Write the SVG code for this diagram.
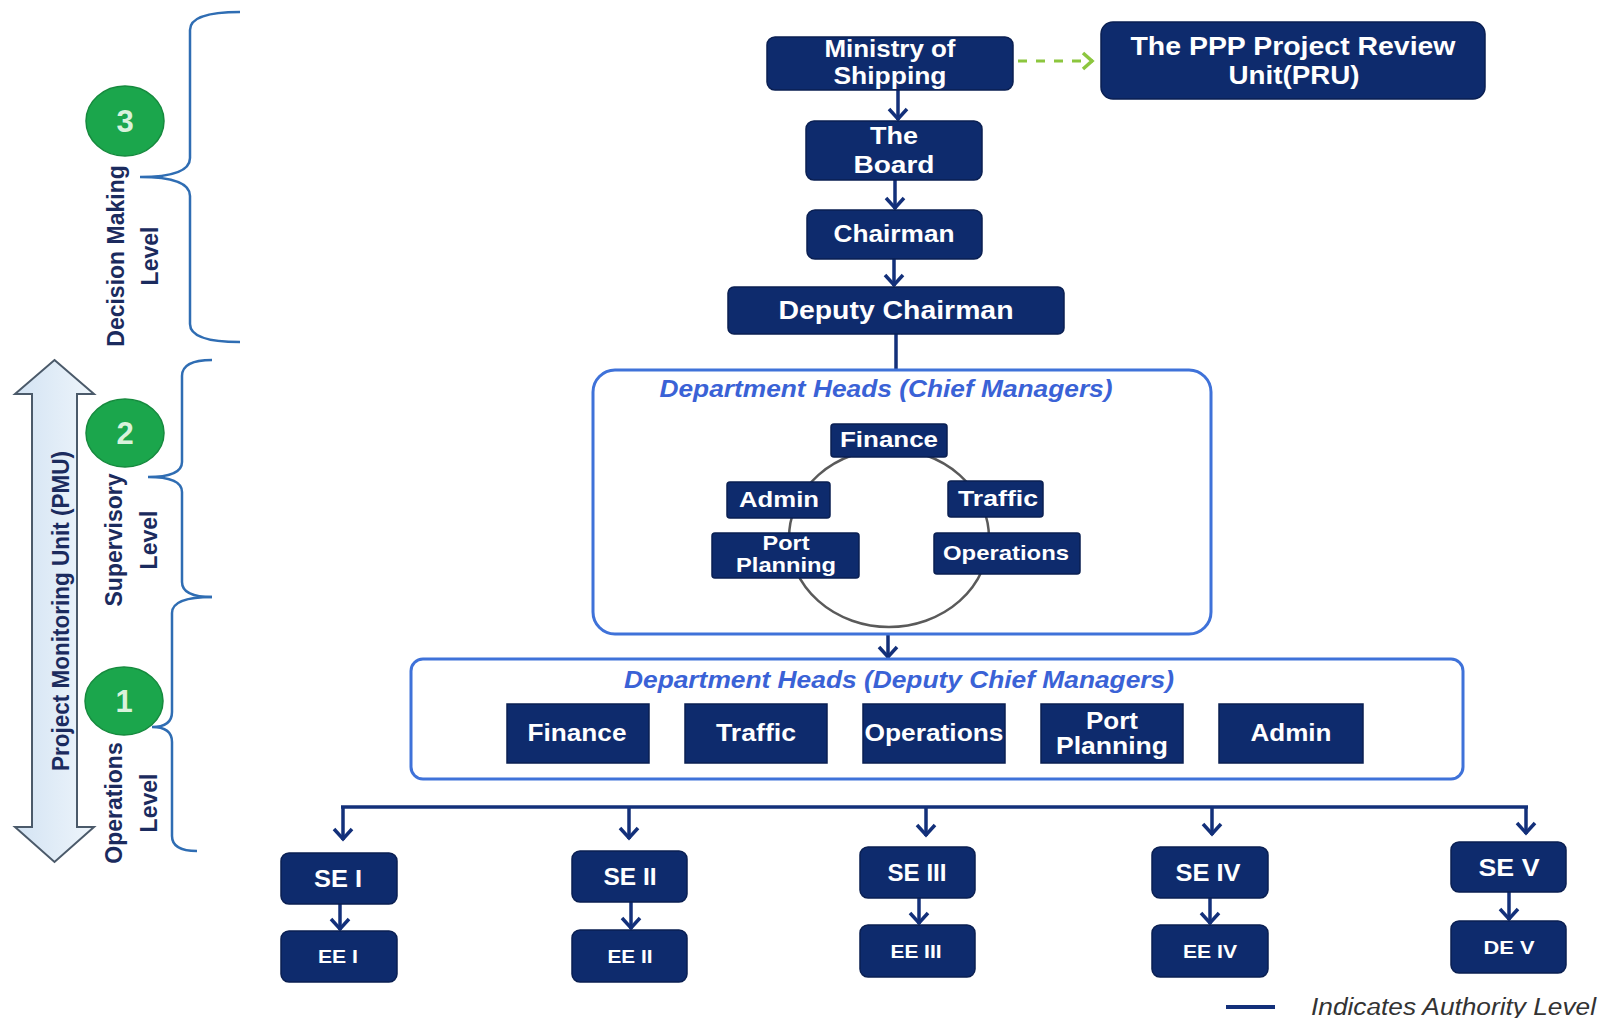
<svg xmlns="http://www.w3.org/2000/svg" width="1604" height="1018" viewBox="0 0 1604 1018">
  <defs>
    <style>
      .box { fill: #0e2b6d; stroke: #0a1f52; stroke-width: 1.5; }
      .frame { fill: #ffffff; stroke: #3f72d9; stroke-width: 3; }
      .w { fill: #ffffff; font-family: "Liberation Sans", Arial, sans-serif; font-weight: bold; text-anchor: middle; }
      .title { fill: #3a62d6; font-family: "Liberation Sans", Arial, sans-serif; font-weight: bold; font-style: italic; font-size: 23px; text-anchor: middle; }
      .side { fill: #1b2b5e; font-family: "Liberation Sans", Arial, sans-serif; font-weight: bold; font-size: 23px; text-anchor: middle; }
      .num { fill: #d9f2dc; font-family: "Liberation Sans", Arial, sans-serif; font-weight: bold; font-size: 31px; text-anchor: middle; }
      .badge { fill: #1ba64c; stroke: #168a3e; stroke-width: 1.5; }
      .brace { fill: none; stroke: #2f6db3; stroke-width: 2.5; }
      .link { fill: none; stroke: #13307a; stroke-width: 3.5; }
      .ring { fill: none; stroke: #5a5a5a; stroke-width: 2.5; }
    </style>
    <marker id="chev" viewBox="-14 -12 16 24" refX="0" refY="0" markerWidth="16" markerHeight="24" markerUnits="userSpaceOnUse" orient="auto">
      <path d="M-11,-9 L-1,0 L-11,9" fill="none" stroke="#13307a" stroke-width="3.5"/>
    </marker>
    <marker id="chevGreen" viewBox="-14 -12 16 24" refX="0" refY="0" markerWidth="16" markerHeight="24" markerUnits="userSpaceOnUse" orient="auto">
      <path d="M-10,-8 L-1,0 L-10,8" fill="none" stroke="#8cc63e" stroke-width="3.5"/>
    </marker>
    <linearGradient id="pmuFill" x1="0" y1="0" x2="1" y2="0">
      <stop offset="0" stop-color="#d3e3f3"/>
      <stop offset="1" stop-color="#eef5fb"/>
    </linearGradient>
  </defs>

  <rect width="1604" height="1018" fill="#ffffff"/>

  <!-- Level braces and badges on the left -->
  <g id="pmu-arrow">
    <path d="M54.5,360 L94,394 L77,394 L77,827 L94,827 L54.5,862 L15,827 L32,827 L32,394 L15,394 Z" fill="url(#pmuFill)" stroke="#4b5a6a" stroke-width="2"/>
    <text class="side" transform="translate(69,611) rotate(-90)" textLength="320" lengthAdjust="spacingAndGlyphs">Project Monitoring Unit (PMU)</text>
  </g>

  <g id="level-decision">
    <path class="brace" d="M240,12 Q190,12 190,30 L190,158 Q190,177 140,177 Q190,177 190,196 L190,324 Q190,342 240,342"/>
    <ellipse class="badge" cx="125" cy="121" rx="39" ry="35"/>
    <text class="num" x="125" y="132">3</text>
    <text class="side" transform="translate(124,256) rotate(-90)">Decision Making</text>
    <text class="side" transform="translate(158,256) rotate(-90)">Level</text>
  </g>

  <g id="level-supervisory">
    <path class="brace" d="M212,360 Q182,360 182,376 L182,462 Q182,477 148,477 Q182,477 182,492 L182,582 Q182,597 212,597"/>
    <ellipse class="badge" cx="125" cy="433" rx="39" ry="34"/>
    <text class="num" x="125" y="444">2</text>
    <text class="side" transform="translate(122,540) rotate(-90)">Supervisory</text>
    <text class="side" transform="translate(157,540) rotate(-90)">Level</text>
  </g>

  <g id="level-operations">
    <path class="brace" d="M212,597 Q172,597 172,613 L172,712 Q172,727 152,727 Q172,727 172,742 L172,836 Q172,851 197,851"/>
    <ellipse class="badge" cx="124" cy="701" rx="39" ry="34"/>
    <text class="num" x="124" y="712">1</text>
    <text class="side" transform="translate(122,803) rotate(-90)">Operations</text>
    <text class="side" transform="translate(157,803) rotate(-90)">Level</text>
  </g>

  <!-- Connectors -->
  <g id="connectors">
    <line x1="1018" y1="61" x2="1093" y2="61" stroke="#8cc63e" stroke-width="3" stroke-dasharray="9 9" marker-end="url(#chevGreen)"/>
    <line class="link" x1="898" y1="90" x2="898" y2="120" marker-end="url(#chev)"/>
    <line class="link" x1="895" y1="180" x2="895" y2="209" marker-end="url(#chev)"/>
    <line class="link" x1="894" y1="259" x2="894" y2="286" marker-end="url(#chev)"/>
    <line class="link" x1="896" y1="334" x2="896" y2="370"/>
    <line class="link" x1="888" y1="634" x2="888" y2="658" marker-end="url(#chev)"/>
    <line class="link" x1="341" y1="807" x2="1528" y2="807"/>
    <line class="link" x1="343" y1="807" x2="343" y2="840" marker-end="url(#chev)"/>
    <line class="link" x1="629" y1="807" x2="629" y2="839" marker-end="url(#chev)"/>
    <line class="link" x1="926" y1="807" x2="926" y2="836" marker-end="url(#chev)"/>
    <line class="link" x1="1212" y1="807" x2="1212" y2="835" marker-end="url(#chev)"/>
    <line class="link" x1="1526" y1="807" x2="1526" y2="834" marker-end="url(#chev)"/>
    <line class="link" x1="340" y1="904" x2="340" y2="930" marker-end="url(#chev)"/>
    <line class="link" x1="631" y1="902" x2="631" y2="929" marker-end="url(#chev)"/>
    <line class="link" x1="919" y1="898" x2="919" y2="924" marker-end="url(#chev)"/>
    <line class="link" x1="1210" y1="898" x2="1210" y2="924" marker-end="url(#chev)"/>
    <line class="link" x1="1509" y1="892" x2="1509" y2="920" marker-end="url(#chev)"/>
  </g>

  <!-- Top of the hierarchy -->
  <g id="ministry">
    <rect class="box" x="767" y="37" width="246" height="53" rx="8"/>
    <text class="w" x="890" y="57" font-size="23" textLength="131" lengthAdjust="spacingAndGlyphs">Ministry of</text>
    <text class="w" x="890" y="84" font-size="23" textLength="113" lengthAdjust="spacingAndGlyphs">Shipping</text>
  </g>
  <g id="pru">
    <rect class="box" x="1101" y="22" width="384" height="77" rx="12"/>
    <text class="w" x="1293" y="55" font-size="25" textLength="325" lengthAdjust="spacingAndGlyphs">The PPP Project Review</text>
    <text class="w" x="1294" y="84" font-size="25" textLength="131" lengthAdjust="spacingAndGlyphs">Unit(PRU)</text>
  </g>
  <g id="board">
    <rect class="box" x="806" y="121" width="176" height="59" rx="8"/>
    <text class="w" x="894" y="144" font-size="24" textLength="48" lengthAdjust="spacingAndGlyphs">The</text>
    <text class="w" x="894" y="173" font-size="24" textLength="81" lengthAdjust="spacingAndGlyphs">Board</text>
  </g>
  <g id="chairman">
    <rect class="box" x="807" y="210" width="175" height="49" rx="8"/>
    <text class="w" x="894" y="242" font-size="23" textLength="121" lengthAdjust="spacingAndGlyphs">Chairman</text>
  </g>
  <g id="deputy-chairman">
    <rect class="box" x="728" y="287" width="336" height="47" rx="6"/>
    <text class="w" x="896" y="319" font-size="25" textLength="235" lengthAdjust="spacingAndGlyphs">Deputy Chairman</text>
  </g>

  <!-- Chief managers -->
  <g id="chief-managers">
    <rect class="frame" x="593" y="370" width="618" height="264" rx="22"/>
    <text class="title" x="886" y="397" textLength="453" lengthAdjust="spacingAndGlyphs">Department  Heads (Chief Managers)</text>
    <ellipse class="ring" cx="889" cy="538" rx="100" ry="89"/>
  </g>
  <g id="cm-finance">
    <rect class="box" x="831" y="424" width="116" height="33" rx="3"/>
    <text class="w" x="889" y="447" font-size="22" textLength="98" lengthAdjust="spacingAndGlyphs">Finance</text>
  </g>
  <g id="cm-admin">
    <rect class="box" x="727" y="482" width="103" height="36" rx="3"/>
    <text class="w" x="779" y="507" font-size="22" textLength="80" lengthAdjust="spacingAndGlyphs">Admin</text>
  </g>
  <g id="cm-traffic">
    <rect class="box" x="948" y="481" width="95" height="36" rx="3"/>
    <text class="w" x="998" y="506" font-size="22" textLength="80" lengthAdjust="spacingAndGlyphs">Traffic</text>
  </g>
  <g id="cm-port-planning">
    <rect class="box" x="712" y="533" width="147" height="45" rx="3"/>
    <text class="w" x="786" y="550" font-size="20" textLength="47" lengthAdjust="spacingAndGlyphs">Port</text>
    <text class="w" x="786" y="572" font-size="20" textLength="100" lengthAdjust="spacingAndGlyphs">Planning</text>
  </g>
  <g id="cm-operations">
    <rect class="box" x="934" y="533" width="146" height="41" rx="3"/>
    <text class="w" x="1006" y="560" font-size="21" textLength="126" lengthAdjust="spacingAndGlyphs">Operations</text>
  </g>

  <!-- Deputy chief managers -->
  <g id="deputy-chief-managers">
    <rect class="frame" x="411" y="659" width="1052" height="120" rx="12"/>
    <text class="title" x="899" y="688" textLength="550" lengthAdjust="spacingAndGlyphs">Department  Heads (Deputy Chief Managers)</text>
  </g>
  <g id="dcm-finance">
    <rect class="box" x="507" y="704" width="142" height="59"/>
    <text class="w" x="577" y="741" font-size="23" textLength="99" lengthAdjust="spacingAndGlyphs">Finance</text>
  </g>
  <g id="dcm-traffic">
    <rect class="box" x="685" y="704" width="142" height="59"/>
    <text class="w" x="756" y="741" font-size="23" textLength="80" lengthAdjust="spacingAndGlyphs">Traffic</text>
  </g>
  <g id="dcm-operations">
    <rect class="box" x="863" y="704" width="142" height="59"/>
    <text class="w" x="934" y="741" font-size="23" textLength="139" lengthAdjust="spacingAndGlyphs">Operations</text>
  </g>
  <g id="dcm-port-planning">
    <rect class="box" x="1041" y="704" width="142" height="59"/>
    <text class="w" x="1112" y="729" font-size="23" textLength="52" lengthAdjust="spacingAndGlyphs">Port</text>
    <text class="w" x="1112" y="754" font-size="23" textLength="112" lengthAdjust="spacingAndGlyphs">Planning</text>
  </g>
  <g id="dcm-admin">
    <rect class="box" x="1219" y="704" width="144" height="59"/>
    <text class="w" x="1291" y="741" font-size="23" textLength="81" lengthAdjust="spacingAndGlyphs">Admin</text>
  </g>

  <!-- Superintending / executive engineers -->
  <g id="se-1">
    <rect class="box" x="281" y="853" width="116" height="51" rx="8"/>
    <text class="w" x="338" y="887" font-size="23" textLength="48" lengthAdjust="spacingAndGlyphs">SE I</text>
  </g>
  <g id="ee-1">
    <rect class="box" x="281" y="931" width="116" height="51" rx="8"/>
    <text class="w" x="338" y="963" font-size="19" textLength="40" lengthAdjust="spacingAndGlyphs">EE I</text>
  </g>
  <g id="se-2">
    <rect class="box" x="572" y="851" width="115" height="51" rx="8"/>
    <text class="w" x="630" y="885" font-size="23" textLength="53" lengthAdjust="spacingAndGlyphs">SE II</text>
  </g>
  <g id="ee-2">
    <rect class="box" x="572" y="930" width="115" height="52" rx="8"/>
    <text class="w" x="630" y="963" font-size="19" textLength="45" lengthAdjust="spacingAndGlyphs">EE II</text>
  </g>
  <g id="se-3">
    <rect class="box" x="860" y="847" width="115" height="51" rx="8"/>
    <text class="w" x="917" y="881" font-size="23" textLength="59" lengthAdjust="spacingAndGlyphs">SE III</text>
  </g>
  <g id="ee-3">
    <rect class="box" x="860" y="925" width="115" height="52" rx="8"/>
    <text class="w" x="916" y="958" font-size="19" textLength="51" lengthAdjust="spacingAndGlyphs">EE III</text>
  </g>
  <g id="se-4">
    <rect class="box" x="1152" y="847" width="116" height="51" rx="8"/>
    <text class="w" x="1208" y="881" font-size="23" textLength="65" lengthAdjust="spacingAndGlyphs">SE IV</text>
  </g>
  <g id="ee-4">
    <rect class="box" x="1152" y="925" width="116" height="52" rx="8"/>
    <text class="w" x="1210" y="958" font-size="19" textLength="54" lengthAdjust="spacingAndGlyphs">EE IV</text>
  </g>
  <g id="se-5">
    <rect class="box" x="1451" y="842" width="115" height="50" rx="8"/>
    <text class="w" x="1509" y="876" font-size="23" textLength="61" lengthAdjust="spacingAndGlyphs">SE V</text>
  </g>
  <g id="de-5">
    <rect class="box" x="1451" y="921" width="115" height="52" rx="8"/>
    <text class="w" x="1509" y="954" font-size="19" textLength="51" lengthAdjust="spacingAndGlyphs">DE V</text>
  </g>

  <!-- Legend -->
  <g id="legend">
    <line x1="1226" y1="1007" x2="1275" y2="1007" stroke="#13307a" stroke-width="4"/>
    <text x="1311" y="1015" font-family="'Liberation Sans', Arial, sans-serif" font-style="italic" font-size="23" fill="#333333" textLength="285" lengthAdjust="spacingAndGlyphs">Indicates Authority Level</text>
  </g>
</svg>
